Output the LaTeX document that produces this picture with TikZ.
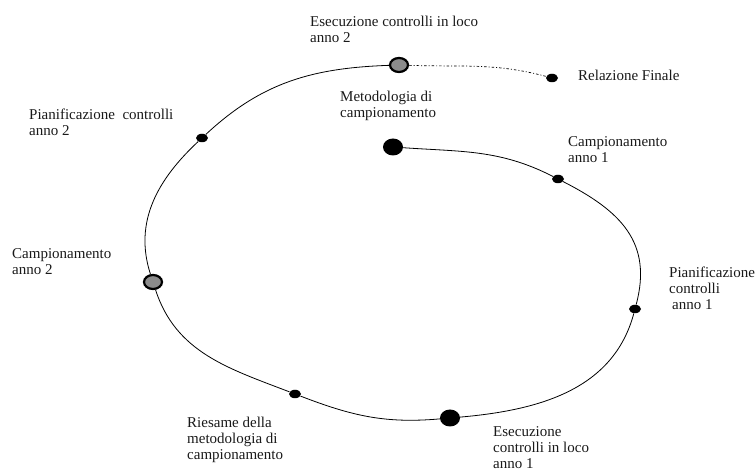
\documentclass[tikz,border=0pt]{standalone}
\usepackage{fontspec}
\setmainfont{Liberation Serif}
\usetikzlibrary{shapes.geometric}

\begin{document}
\begin{tikzpicture}[x=1pt,y=1pt,
  bigdot/.style={ellipse,fill=black,inner sep=0,minimum width=20pt,minimum height=17pt},
  smalldot/.style={ellipse,fill=black,inner sep=0,minimum width=12pt,minimum height=8.5pt},
  greydot/.style={ellipse,draw=black,line width=2.2pt,fill=black!45,inner sep=0,minimum width=18pt,minimum height=14pt},
  lbl/.style={anchor=west,align=left,inner sep=0,text=black!90,font=\fontsize{15}{16}\selectfont},
  spiral/.style={line width=0.8pt},
  final/.style={line width=0.7pt,dash pattern=on 2.5pt off 2pt on 1pt off 2pt}]
\useasboundingbox (0,0) rectangle (756,471);

% punti
\node[bigdot] (metodo) at (393,324) {};
\node[smalldot] (camp1) at (558,292) {};
\node[smalldot] (pian1) at (635,162) {};
\node[bigdot] (esec1) at (450,53) {};
\node[smalldot] (ries) at (295,77) {};
\node[greydot] (camp2) at (153,189) {};
\node[smalldot] (pian2) at (202,333) {};
\node[greydot] (esec2) at (399,406) {};
\node[smalldot] (relaz) at (552,393) {};

% spirale
\draw[spiral] (metodo) to[out=-4,in=153] (camp1)
  to[out=-27,in=75,looseness=1.15] (pian1)
  to[out=-105,in=5] (esec1)
  to[out=185,in=-21] (ries)
  to[out=159,in=-72] (camp2)
  to[out=108,in=223] (pian2)
  to[out=43,in=182] (esec2);
\draw[final] (esec2) to[out=-2,in=165] (relaz);

% testi
\node[lbl] (esec2l) at (310,442) {Esecuzione controlli in loco\\anno 2};
\node[lbl] (relazl) at (578,396) {Relazione Finale};
\node[lbl] (metodol) at (340,365) {Metodologia di\\campionamento};
\node[lbl] (camp1l) at (568,321) {Campionamento\\anno 1};
\node[lbl] (pian1l) at (669,183) {Pianificazione\\controlli\\\hspace{3pt}anno 1};
\node[lbl] (esec1l) at (493,23) {Esecuzione\\controlli in loco\\anno 1};
\node[lbl] (riesl) at (187,31) {Riesame della\\metodologia di\\campionamento};
\node[lbl] (camp2l) at (12,209) {Campionamento\\anno 2};
\node[lbl] (pian2l) at (29,349) {Pianificazione\ \ controlli\\anno 2};

\end{tikzpicture}
\end{document}
